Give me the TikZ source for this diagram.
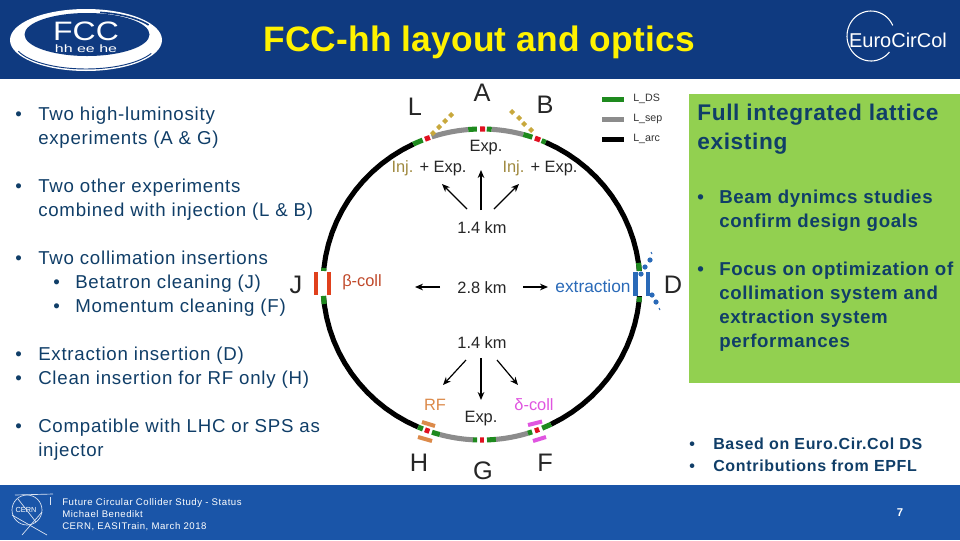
\documentclass[tikz,border=0pt]{standalone}
\usepackage{fontspec}
\usetikzlibrary{arrows.meta}
\setmainfont{Liberation Sans}
\definecolor{navy}{HTML}{0F3A80}
\definecolor{footblue}{HTML}{1A55A8}
\definecolor{panel}{HTML}{92D050}
\definecolor{ink}{HTML}{103E68}
\definecolor{lgreen}{HTML}{1E8A1E}
\definecolor{lgrey}{HTML}{8C8C8C}
\definecolor{lred}{HTML}{E01020}
\definecolor{gold}{HTML}{C8A83C}
\definecolor{tan}{HTML}{A08A40}
\definecolor{collred}{HTML}{E0401C}
\definecolor{collword}{HTML}{C0492A}
\definecolor{exblue}{HTML}{2A6AB8}
\definecolor{rfor}{HTML}{DC8A4A}
\definecolor{dmag}{HTML}{E055E0}
\newcommand\seg[3]{\draw[#1] plot[domain=#2:#3,samples=30] ({481.5+158.5*cos(\x)},{284.5-155.5*sin(\x)});}
\tikzset{
  body/.style={font=\fontsize{14}{16}\selectfont\addfontfeature{LetterSpace=4},text=ink,anchor=base west,inner sep=0pt},
  bodyb/.style={font=\fontsize{14}{16}\bfseries\selectfont\addfontfeature{LetterSpace=3.5},text=ink,anchor=base west,inner sep=0pt},
  smallb/.style={font=\fontsize{12}{14}\bfseries\selectfont\addfontfeature{LetterSpace=4.2},text=ink,anchor=base west,inner sep=0pt},
  head/.style={font=\fontsize{17}{20}\bfseries\selectfont\addfontfeature{LetterSpace=2.9},text=ink,anchor=base west,inner sep=0pt},
  letter/.style={font=\fontsize{19}{22}\selectfont,text=black!85,anchor=center,inner sep=0pt},
  lab/.style={font=\fontsize{12.3}{14}\selectfont,text=black!85,anchor=center,inner sep=0pt},
  leg/.style={font=\fontsize{8}{10}\selectfont,text=black!80,anchor=west,inner sep=0pt},
  foot/.style={font=\fontsize{7.2}{9}\selectfont\addfontfeature{LetterSpace=5.6},text=white,anchor=base west,inner sep=0pt},
  ar/.style={draw=black,line width=.9pt,-{Stealth[length=6pt,width=5pt]}},
  dsl/.style={line width=3.8pt,lgreen},
  sepl/.style={line width=3.8pt,lgrey},
  arcl/.style={line width=3.8pt,black},
  irl/.style={line width=3.8pt,lred},
}
\begin{document}
\begin{tikzpicture}[x=.75pt,y=-.75pt]
\useasboundingbox (0,0) rectangle (960,540);
\fill[white] (0,0) rectangle (960,540);
\fill[navy] (0,0) rectangle (960,79);
\fill[footblue] (0,485) rectangle (960,540);
\fill[panel] (689,94) rectangle (960,383);

% FCC logo
\fill[white] (86,40) ellipse[x radius=76,y radius=31];
\fill[navy] (87,34.5) ellipse[x radius=62.5,y radius=21.5];
\draw[navy,line width=.7pt] plot[domain=200:335,samples=30] ({86+72*cos(\x)},{42-27*sin(\x)});
\draw[navy,line width=1.2pt] plot[domain=30:80,samples=20] ({88+70*cos(\x)},{38-26*sin(\x)});
\node[font=\fontsize{20}{20}\selectfont,text=white,inner sep=0pt,xscale=1.2] (fcc) at (86,31.5) {FCC};
\node[font=\fontsize{8}{8}\selectfont,text=white,inner sep=0pt,xscale=1.5] (fccsub) at (86,49) {hh ee he};

% EuroCirCol logo
\draw[white,line width=.8pt] plot[domain=25:320,samples=50] ({871+24*cos(\x)},{36-25*sin(\x)});
\node[font=\fontsize{15}{16}\selectfont,text=white,inner sep=0pt] (euro) at (898,40.5) {EuroCirCol};

% Title
\node[font=\fontsize{26.5}{30}\bfseries\selectfont\addfontfeature{LetterSpace=.5},text=yellow,inner sep=0pt] (title) at (479,42.5) {FCC-hh layout and optics};

% Left bullets
\node[body] (b1) at (15,120) {•};
\node[body] (l1) at (38,120) {Two high-luminosity};
\node[body] (l2) at (38,144) {experiments (A \& G)};
\node[body] (b2) at (15,192) {•};
\node[body] (l3) at (38,192) {Two other experiments};
\node[body] (l4) at (38,216) {combined with injection (L \& B)};
\node[body] (b3) at (15,264) {•};
\node[body] (l5) at (38,264) {Two collimation insertions};
\node[body] (b4) at (53,288) {•};
\node[body] (l6) at (75,288) {Betatron cleaning (J)};
\node[body] (b5) at (53,312) {•};
\node[body] (l7) at (75,312) {Momentum cleaning (F)};
\node[body] (b6) at (15,360) {•};
\node[body] (l8) at (38,360) {Extraction insertion (D)};
\node[body] (b7) at (15,384) {•};
\node[body] (l9) at (38,384) {Clean insertion for RF only (H)};
\node[body] (b8) at (15,432) {•};
\node[body] (l10) at (38,432) {Compatible with LHC or SPS as};
\node[body] (l11) at (38,456) {injector};

% Right panel
\node[head] (h1) at (697,120) {Full integrated lattice};
\node[head] (h2) at (697,149) {existing};
\node[bodyb] (r0) at (697,203) {•};
\node[bodyb] (r1) at (719,203) {Beam dynimcs studies};
\node[bodyb] (r2) at (719,227) {confirm design goals};
\node[bodyb] (r3) at (697,275) {•};
\node[bodyb] (r4) at (719,275) {Focus on optimization of};
\node[bodyb] (r5) at (719,299) {collimation system and};
\node[bodyb] (r6) at (719,323) {extraction system};
\node[bodyb] (r7) at (719,347) {performances};
\node[smallb] (s0) at (689,449) {•};
\node[smallb] (s1) at (713,449) {Based on Euro.Cir.Col DS};
\node[smallb] (s2) at (689,471) {•};
\node[smallb] (s3) at (713,471) {Contributions from EPFL};

% Ring: arcs
\seg{arcl}{-64}{66.1}
\seg{arcl}{115.5}{246.4}
% top
\seg{dsl}{111.8}{115.5}
\seg{irl}{109}{110.9}
\seg{sepl}{94.8}{108.3}
\seg{dsl}{91.7}{94.8}
\seg{irl}{88.7}{90.5}
\seg{dsl}{86.3}{88.1}
\seg{sepl}{74.7}{86.3}
\seg{dsl}{71.3}{74.7}
\seg{irl}{68.3}{70.3}
\seg{dsl}{66.1}{67.7}
% bottom
\seg{dsl}{-113.6}{-111.7}
\seg{irl}{-110.9}{-109.2}
\seg{dsl}{-108.2}{-105.2}
\seg{sepl}{-105.2}{-93.1}
\seg{dsl}{-93.1}{-91.6}
\seg{irl}{-90.5}{-89.1}
\seg{dsl}{-88}{-84.75}
\seg{sepl}{-84.75}{-73}
\seg{dsl}{-73}{-71.4}
\seg{irl}{-70.3}{-68.7}
\seg{dsl}{-67.5}{-64}
% D gap
\fill[white] (636,271) rectangle (646,296);
\seg{dsl}{-6.5}{-4.6}
\seg{dsl}{5}{8}
% J gap
\fill[white] (319,271) rectangle (327,296);
\seg{dsl}{173.9}{175}
\seg{dsl}{184.2}{187.2}

% J collimators
\fill[collred] (314,272) rectangle (318,295);
\fill[collred] (327,272) rectangle (330.5,295);
% D extraction
\fill[exblue] (633,272) rectangle (637.5,296);
\fill[exblue] (646,272) rectangle (650,296);
\foreach \p in {(650,260),(645,267),(641,274),(652,295),(656,302)}
  \fill[exblue] \p circle[radius=2.6];
\draw[exblue,line width=.7pt] (651,252) -- (652,254);
\draw[exblue,line width=.7pt] (659,308) -- (660,310);

% Injection diamonds
\foreach \p in {(451,115),(445,121),(439,127),(433,133),(512,112),(519,118),(524,124),(531,130)}
  \fill[gold] \p ++(-3,0) -- ++(3,-3) -- ++(3,3) -- ++(-3,3) -- cycle;

% RF and delta plates
\draw[rfor,line width=3pt] (422,422) -- (435,426);
\draw[rfor,line width=3pt] (418,437) -- (432,441);
\draw[dmag,line width=3pt] (528,425) -- (542,421.5);
\draw[dmag,line width=3pt] (533,441) -- (546,437);

% Letters
\node[letter] (nL) at (415,107) {L};
\node[letter] (nA) at (482,93) {A};
\node[letter] (nB) at (545,105) {B};
\node[letter] (nJ) at (296,285) {J};
\node[letter] (nD) at (673,285) {D};
\node[letter] (nH) at (419,463) {H};
\node[letter] (nG) at (483,471) {G};
\node[letter] (nF) at (545,463) {F};

% Labels
\node[lab] (exA) at (486,148) {Exp.};
\node[lab] (exL) at (429,168) {\textcolor{tan}{Inj.} + Exp.};
\node[lab] (exB) at (540,168) {\textcolor{tan}{Inj.} + Exp.};
\node[lab] (kmT) at (482,228) {1.4 km};
\node[lab] (kmM) at (482,288) {2.8 km};
\node[lab] (kmB) at (482,343) {1.4 km};
\node[lab,text=collword] (bcoll) at (362,282) {β-coll};
\node[lab,text=exblue,font=\fontsize{13}{14}\selectfont] (extr) at (593,286) {extraction};
\node[lab,text=rfor] (rf) at (435,405) {RF};
\node[lab,text=dmag] (dcoll) at (534,405) {δ-coll};
\node[lab] (exG) at (481,419) {Exp.};

% Arrows
\coordinate (at1) at (442,184);
\coordinate (at2) at (481,170);
\coordinate (at3) at (519,184);
\draw[ar] (467,209) -- (at1);
\draw[ar] (481,210) -- (at2);
\draw[ar] (494,209) -- (at3);
\coordinate (am1) at (415,287);
\coordinate (am2) at (548,287);
\draw[ar] (440,287) -- (am1);
\draw[ar] (523,287) -- (am2);
\coordinate (ab1) at (443,385);
\coordinate (ab2) at (481,400);
\coordinate (ab3) at (518,385);
\draw[ar] (466,360) -- (ab1);
\draw[ar] (481,358) -- (ab2);
\draw[ar] (497,360) -- (ab3);

% Legend
\fill[lgreen] (602,96.5) rectangle (624,101.5);
\fill[lgrey] (602,116.5) rectangle (624,121.5);
\fill[black] (602,136.5) rectangle (624,141.5);
\node[leg] (lg1) at (633,99) {L\_DS};
\node[leg] (lg2) at (633,119) {L\_sep};
\node[leg] (lg3) at (633,139) {L\_arc};

% CERN logo
\draw[white!85!footblue,line width=.5pt] (27,510) circle[radius=15];
\draw[white!85!footblue,line width=.5pt] (15,495) -- (53,494);
\draw[white!85!footblue,line width=.5pt] (50,497) -- (50,505);
\draw[white!85!footblue,line width=.5pt] (12,515) -- (47,535);
\draw[white!85!footblue,line width=.5pt] (22,535) -- (42,512);
\draw[white!85!footblue,line width=.5pt] (18,499) -- (36,522);
\node[font=\fontsize{5.5}{6}\selectfont,text=white,inner sep=0pt] (cern) at (26,510) {CERN};

% Footer
\node[foot] (f1) at (62,505) {Future Circular Collider Study - Status};
\node[foot] (f2) at (62,517) {Michael Benedikt};
\node[foot] (f3) at (62,529) {CERN, EASITrain, March 2018};
\node[font=\fontsize{8.5}{10}\bfseries\selectfont,text=white,inner sep=0pt] (pg) at (900,513) {7};
\end{tikzpicture}
\end{document}
